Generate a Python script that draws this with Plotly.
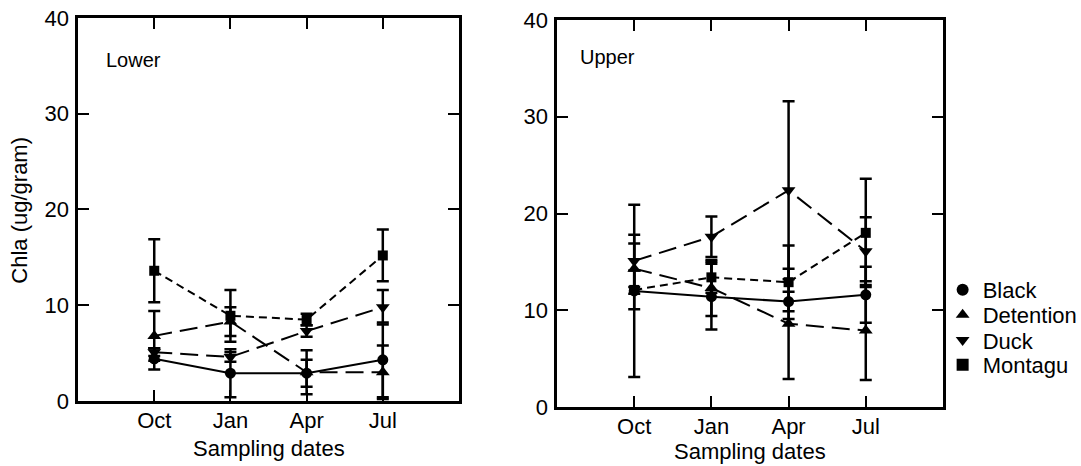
import plotly.graph_objects as go

# Sampling dates and sites
dates = ["Oct", "Jan", "Apr", "Jul"]
sites = ["Black", "Detention", "Duck", "Montagu"]

# Lower reach: mean Chla (ug/gram) and error half-widths
lower_black = [4.4, 2.9, 2.9, 4.3]
lower_black_err = [1.1, 2.5, 1.4, 3.9]
lower_detention = [6.8, 8.3, 3.0, 3.0]
lower_detention_err = [2.6, 1.5, 2.3, 2.8]
lower_duck = [5.1, 4.6, 7.3, 9.8]
lower_duck_err = [0.4, 0.5, 0.6, 1.8]
lower_montagu = [13.6, 8.9, 8.5, 15.2]
lower_montagu_err = [3.3, 2.7, 0.6, 2.7]

# Upper reach
upper_black = [12.0, 11.4, 10.9, 11.6]
upper_black_err = [8.9, 3.4, 1.0, 2.9]
upper_detention = [14.3, 12.3, 8.6, 7.9]
upper_detention_err = [2.6, 2.9, 5.7, 5.1]
upper_duck = [15.1, 17.6, 22.4, 16.1]
upper_duck_err = [2.7, 2.1, 9.2, 3.5]
upper_montagu = [12.1, 13.4, 12.9, 18.0]
upper_montagu_err = [2.0, 1.6, 3.8, 5.6]

y_ticks = [0, 10, 20, 30, 40]

FONT = "Liberation Sans, Arial, Helvetica, sans-serif"
symbols = {"Black": "circle", "Detention": "triangle-up",
           "Duck": "triangle-down", "Montagu": "square"}
dashes = {"Black": "solid", "Detention": "18px,8px",
          "Duck": "18px,8px", "Montagu": "8px,5px"}
sizes = {"Black": 11, "Detention": 12, "Duck": 12, "Montagu": 10}

lower = {"Black": (lower_black, lower_black_err),
         "Detention": (lower_detention, lower_detention_err),
         "Duck": (lower_duck, lower_duck_err),
         "Montagu": (lower_montagu, lower_montagu_err)}
upper = {"Black": (upper_black, upper_black_err),
         "Detention": (upper_detention, upper_detention_err),
         "Duck": (upper_duck, upper_duck_err),
         "Montagu": (upper_montagu, upper_montagu_err)}

fig = go.Figure()

for panel, (xa, ya) in ((lower, ("x", "y")), (upper, ("x2", "y2"))):
    for site in sites:
        vals, errs = panel[site]
        fig.add_trace(go.Scatter(
            x=dates, y=vals, xaxis=xa, yaxis=ya,
            mode="lines+markers", showlegend=False, name=site,
            line=dict(color="black", width=2, dash=dashes[site]),
            marker=dict(symbol=symbols[site], size=sizes[site], color="black"),
            error_y=dict(type="data", array=errs, visible=True,
                         color="black", thickness=2.5, width=6),
        ))

# marker-only key, one legend box per site so rows sit at fixed heights
legend_rows = {"Black": 0.378, "Detention": 0.324, "Duck": 0.270, "Montagu": 0.217}
legend_font = dict(family="Liberation Sans, Arial, sans-serif", size=22, color="black")
legend_layout = {}
for i, site in enumerate(sites):
    key = "legend" if i == 0 else f"legend{i + 1}"
    fig.add_trace(go.Scatter(
        x=[None], y=[None], mode="markers", name=site, showlegend=True,
        legend=key,
        marker=dict(symbol=symbols[site], size=sizes[site], color="black"),
    ))
    legend_layout[key] = dict(x=0.872, y=legend_rows[site], xanchor="left",
                              yanchor="middle", font=legend_font,
                              bgcolor="rgba(0,0,0,0)", itemsizing="constant")

axis_common = dict(
    showline=True, linecolor="black", linewidth=2.5, mirror="ticks",
    ticks="inside", ticklen=11, tickwidth=2, tickcolor="black",
    showgrid=False, zeroline=False, automargin=False,
    tickfont=dict(family=FONT, size=22, color="black"),
)

fig.update_layout(
    template="none",
    width=1081, height=466, autosize=False,
    margin=dict(l=0, r=0, t=0, b=0, pad=0, autoexpand=False),
    paper_bgcolor="white", plot_bgcolor="white",
    font=dict(family=FONT, color="black"),
    xaxis=dict(domain=[0.0722, 0.4246], type="category", range=[-1, 4],
               anchor="y", ticklabelstandoff=-2, **axis_common),
    yaxis=dict(domain=[0.1395, 0.9614], range=[0, 40], tickvals=y_ticks,
               anchor="x", ticklabelstandoff=2, **axis_common),
    xaxis2=dict(domain=[0.5153, 0.8723], type="category", range=[-1, 4],
                anchor="y2", ticklabelstandoff=-2, **axis_common),
    yaxis2=dict(domain=[0.1266, 0.9571], range=[0, 40], tickvals=y_ticks,
                anchor="x2", ticklabelstandoff=2, **axis_common),
    showlegend=True,
    **legend_layout,
)

annotations = [
    dict(text="Chla (ug/gram)", x=0.0185, y=0.55, textangle=-90,
         font=dict(size=22)),
    dict(text="Sampling dates", x=0.2484, y=0.037, font=dict(size=22)),
    dict(text="Sampling dates", x=0.6938, y=0.032, font=dict(size=22)),
    dict(text="Lower", x=0.096, y=0.872, xanchor="left", font=dict(size=20)),
    dict(text="Upper", x=0.535, y=0.878, xanchor="left", font=dict(size=20)),
]
for a in annotations:
    a.setdefault("xanchor", "center")
    fig.add_annotation(xref="paper", yref="paper", showarrow=False,
                       yanchor="middle", **a)

fig.write_html("out.html", config={"responsive": False})
